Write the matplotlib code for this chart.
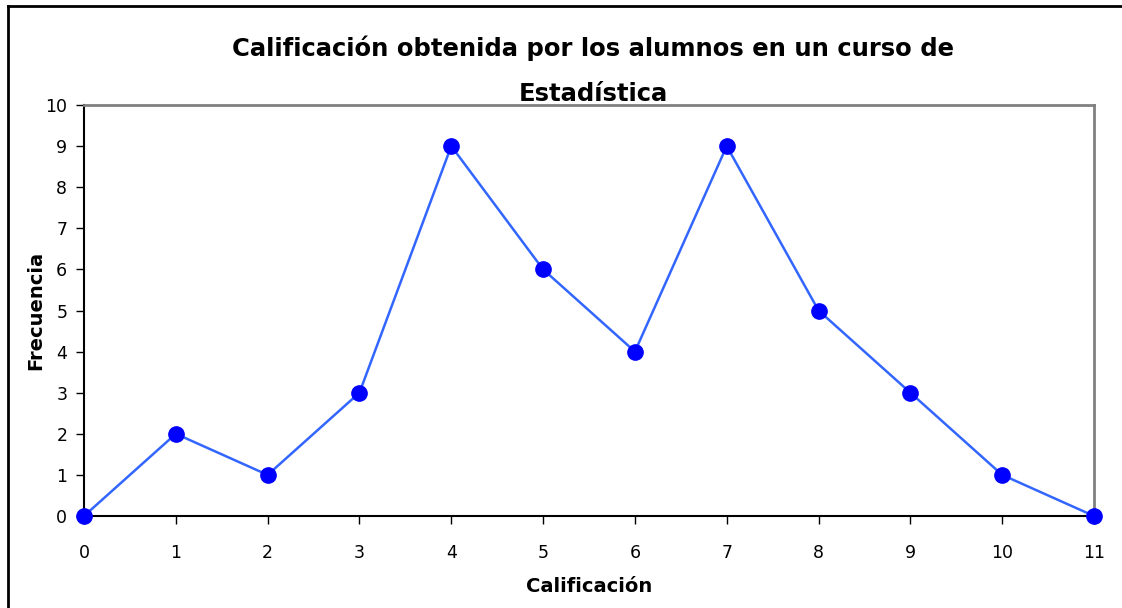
import matplotlib
matplotlib.use("Agg")
import matplotlib.pyplot as plt
from matplotlib.lines import Line2D

calificacion = [0, 1, 2, 3, 4, 5, 6, 7, 8, 9, 10, 11]
frecuencia = [0, 2, 1, 3, 9, 6, 4, 9, 5, 3, 1, 0]
y_ticks = list(range(0, 11))

fig = plt.figure(figsize=(11.22, 6.08), dpi=100)
ax = fig.add_axes([84/1122, (608-516)/608, (1094-84)/1122, (516-105)/608])

ax.plot(calificacion, frecuencia, color="#3366FF", linewidth=1.8, zorder=2, clip_on=False)
ax.plot(calificacion, frecuencia, linestyle="none", marker="o", markersize=11,
        color="#0000FF", zorder=3, clip_on=False)

ax.set_xlim(0, 11)
ax.set_ylim(0, 10)
ax.set_xticks(calificacion)
ax.set_yticks(y_ticks)
ax.tick_params(axis="both", direction="out", length=6, width=1, labelsize=12.5, colors="black")
ax.tick_params(axis="x", pad=14)
ax.tick_params(axis="y", pad=6)

for s in ["top", "right"]:
    ax.spines[s].set_color("#808080")
    ax.spines[s].set_linewidth(2)
for s in ["left", "bottom"]:
    ax.spines[s].set_color("black")
    ax.spines[s].set_linewidth(1.5)

ax.set_xlabel("Calificación", fontsize=14, fontweight="bold", labelpad=11)
ax.set_ylabel("Frecuencia", fontsize=14, fontweight="bold", labelpad=0)

fig.text(593/1122, 1 - 48/608, "Calificación obtenida por los alumnos en un curso de",
         ha="center", va="center", fontsize=17.5, fontweight="bold")
fig.text(593/1122, 1 - 94/608, "Estadística",
         ha="center", va="center", fontsize=17.5, fontweight="bold")

# outer frame (left and top only visible)
fig.add_artist(Line2D([8/1122, 8/1122], [0, 1 - 6/608], transform=fig.transFigure,
                      color="black", linewidth=2))
fig.add_artist(Line2D([8/1122, 1], [1 - 6/608, 1 - 6/608], transform=fig.transFigure,
                      color="black", linewidth=2))

fig.savefig("out.png", dpi=100)
